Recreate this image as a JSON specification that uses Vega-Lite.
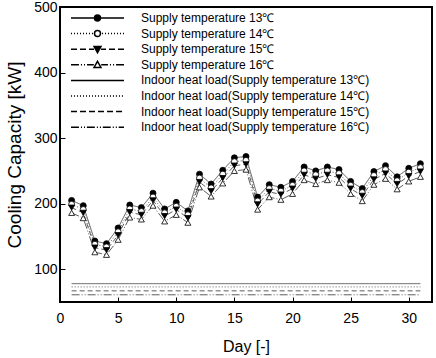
{
  "$schema": "https://vega.github.io/schema/vega-lite/v6.json",
  "width": 372,
  "height": 295,
  "autosize": "none",
  "padding": {"left": 60, "top": 7, "right": 4, "bottom": 56},
  "background": "white",
  "config": {
    "font": "Liberation Sans",
    "view": {"stroke": "black", "strokeWidth": 2},
    "axis": {"domain": false, "grid": false, "labelFont": "Liberation Sans", "titleFont": "Liberation Sans", "labelColor": "black", "titleColor": "black", "titleFontWeight": "normal", "tickColor": "black", "tickWidth": 1}
  },
  "data": {
    "values": [
      {"day": 1, "Supply temperature 13℃": 205, "Supply temperature 14℃": 199, "Supply temperature 15℃": 194, "Supply temperature 16℃": 186},
      {"day": 2, "Supply temperature 13℃": 197, "Supply temperature 14℃": 191, "Supply temperature 15℃": 186, "Supply temperature 16℃": 178},
      {"day": 3, "Supply temperature 13℃": 143, "Supply temperature 14℃": 138, "Supply temperature 15℃": 133, "Supply temperature 16℃": 126},
      {"day": 4, "Supply temperature 13℃": 139, "Supply temperature 14℃": 134, "Supply temperature 15℃": 129, "Supply temperature 16℃": 122},
      {"day": 5, "Supply temperature 13℃": 163, "Supply temperature 14℃": 157, "Supply temperature 15℃": 152, "Supply temperature 16℃": 145},
      {"day": 6, "Supply temperature 13℃": 198, "Supply temperature 14℃": 192, "Supply temperature 15℃": 187, "Supply temperature 16℃": 179},
      {"day": 7, "Supply temperature 13℃": 194, "Supply temperature 14℃": 188, "Supply temperature 15℃": 183, "Supply temperature 16℃": 176},
      {"day": 8, "Supply temperature 13℃": 216, "Supply temperature 14℃": 210, "Supply temperature 15℃": 205, "Supply temperature 16℃": 197},
      {"day": 9, "Supply temperature 13℃": 192, "Supply temperature 14℃": 186, "Supply temperature 15℃": 181, "Supply temperature 16℃": 173},
      {"day": 10, "Supply temperature 13℃": 202, "Supply temperature 14℃": 196, "Supply temperature 15℃": 191, "Supply temperature 16℃": 183},
      {"day": 11, "Supply temperature 13℃": 189, "Supply temperature 14℃": 183, "Supply temperature 15℃": 178, "Supply temperature 16℃": 171},
      {"day": 12, "Supply temperature 13℃": 245, "Supply temperature 14℃": 239, "Supply temperature 15℃": 233, "Supply temperature 16℃": 225},
      {"day": 13, "Supply temperature 13℃": 230, "Supply temperature 14℃": 224, "Supply temperature 15℃": 219, "Supply temperature 16℃": 211},
      {"day": 14, "Supply temperature 13℃": 251, "Supply temperature 14℃": 245, "Supply temperature 15℃": 239, "Supply temperature 16℃": 231},
      {"day": 15, "Supply temperature 13℃": 270, "Supply temperature 14℃": 264, "Supply temperature 15℃": 258, "Supply temperature 16℃": 250},
      {"day": 16, "Supply temperature 13℃": 272, "Supply temperature 14℃": 266, "Supply temperature 15℃": 260, "Supply temperature 16℃": 252},
      {"day": 17, "Supply temperature 13℃": 210, "Supply temperature 14℃": 204, "Supply temperature 15℃": 199, "Supply temperature 16℃": 191},
      {"day": 18, "Supply temperature 13℃": 229, "Supply temperature 14℃": 223, "Supply temperature 15℃": 218, "Supply temperature 16℃": 210},
      {"day": 19, "Supply temperature 13℃": 225, "Supply temperature 14℃": 219, "Supply temperature 15℃": 214, "Supply temperature 16℃": 206},
      {"day": 20, "Supply temperature 13℃": 234, "Supply temperature 14℃": 228, "Supply temperature 15℃": 223, "Supply temperature 16℃": 215},
      {"day": 21, "Supply temperature 13℃": 256, "Supply temperature 14℃": 250, "Supply temperature 15℃": 244, "Supply temperature 16℃": 236},
      {"day": 22, "Supply temperature 13℃": 250, "Supply temperature 14℃": 244, "Supply temperature 15℃": 238, "Supply temperature 16℃": 230},
      {"day": 23, "Supply temperature 13℃": 256, "Supply temperature 14℃": 250, "Supply temperature 15℃": 244, "Supply temperature 16℃": 236},
      {"day": 24, "Supply temperature 13℃": 252, "Supply temperature 14℃": 246, "Supply temperature 15℃": 240, "Supply temperature 16℃": 232},
      {"day": 25, "Supply temperature 13℃": 234, "Supply temperature 14℃": 228, "Supply temperature 15℃": 223, "Supply temperature 16℃": 215},
      {"day": 26, "Supply temperature 13℃": 223, "Supply temperature 14℃": 217, "Supply temperature 15℃": 212, "Supply temperature 16℃": 204},
      {"day": 27, "Supply temperature 13℃": 249, "Supply temperature 14℃": 243, "Supply temperature 15℃": 237, "Supply temperature 16℃": 229},
      {"day": 28, "Supply temperature 13℃": 258, "Supply temperature 14℃": 252, "Supply temperature 15℃": 246, "Supply temperature 16℃": 238},
      {"day": 29, "Supply temperature 13℃": 241, "Supply temperature 14℃": 235, "Supply temperature 15℃": 230, "Supply temperature 16℃": 222},
      {"day": 30, "Supply temperature 13℃": 254, "Supply temperature 14℃": 248, "Supply temperature 15℃": 242, "Supply temperature 16℃": 234},
      {"day": 31, "Supply temperature 13℃": 261, "Supply temperature 14℃": 255, "Supply temperature 15℃": 249, "Supply temperature 16℃": 241},
      {"day": 1, "Indoor heat load(Supply temperature 13℃)": 78, "Indoor heat load(Supply temperature 14℃)": 73, "Indoor heat load(Supply temperature 15℃)": 67, "Indoor heat load(Supply temperature 16℃)": 61},
      {"day": 31, "Indoor heat load(Supply temperature 13℃)": 78, "Indoor heat load(Supply temperature 14℃)": 73, "Indoor heat load(Supply temperature 15℃)": 67, "Indoor heat load(Supply temperature 16℃)": 61}
    ]
  },
  "transform": [
    {"fold": ["Supply temperature 13℃", "Supply temperature 14℃", "Supply temperature 15℃", "Supply temperature 16℃", "Indoor heat load(Supply temperature 13℃)", "Indoor heat load(Supply temperature 14℃)", "Indoor heat load(Supply temperature 15℃)", "Indoor heat load(Supply temperature 16℃)"], "as": ["series", "value"]},
    {"filter": "isValid(datum.value)"}
  ],
  "encoding": {
    "x": {"field": "day", "type": "quantitative", "scale": {"domain": [0, 32], "nice": false},
      "axis": {"title": "Day [-]", "values": [0, 5, 10, 15, 20, 25, 30], "tickSize": -5, "labelFontSize": 14, "labelPadding": 14, "titleFontSize": 16, "titlePadding": 13, "labelFlush": false}},
    "y": {"field": "value", "type": "quantitative", "scale": {"domain": [50, 500], "nice": false, "zero": false},
      "axis": {"title": "Cooling Capacity [kW]", "values": [100, 200, 300, 400, 500], "tickSize": -5, "labelFontSize": 14, "labelPadding": 8, "titleFontSize": 19, "titlePadding": 9, "labelFlush": false}}
  },
  "layer": [
    {
      "mark": {"type": "line", "strokeWidth": 0.8, "stroke": "#333"},
      "encoding": {
        "detail": {"field": "series"},
        "strokeDash": {"field": "series", "type": "nominal", "legend": null,
          "scale": {"domain": ["Supply temperature 13℃", "Supply temperature 14℃", "Supply temperature 15℃", "Supply temperature 16℃", "Indoor heat load(Supply temperature 13℃)", "Indoor heat load(Supply temperature 14℃)", "Indoor heat load(Supply temperature 15℃)", "Indoor heat load(Supply temperature 16℃)"],
            "range": [[1, 0], [1, 2], [5, 3], [8, 2, 1, 2, 1, 2], [1, 0], [1, 2], [5, 3], [8, 2, 1, 2, 1, 2]]}}
      }
    },
    {
      "transform": [{"filter": "indexof(datum.series, 'Indoor') < 0"}],
      "mark": {"type": "point", "size": 36, "strokeWidth": 0.8, "stroke": "black", "opacity": 1},
      "encoding": {
        "shape": {"field": "series", "type": "nominal", "legend": null,
          "scale": {"domain": ["Supply temperature 13℃", "Supply temperature 14℃", "Supply temperature 15℃", "Supply temperature 16℃"], "range": ["circle", "circle", "triangle-down", "triangle-up"]}},
        "fill": {"field": "series", "type": "nominal", "legend": null,
          "scale": {"domain": ["Supply temperature 13℃", "Supply temperature 14℃", "Supply temperature 15℃", "Supply temperature 16℃"], "range": ["black", "white", "black", "white"]}}
      }
    },
    {
      "transform": [{"filter": "datum.day > 1000"}],
      "mark": {"type": "point", "stroke": "black", "opacity": 1, "strokeWidth": 1},
      "encoding": {
        "shape": {"field": "series", "type": "nominal",
          "scale": {"domain": ["Supply temperature 13℃", "Supply temperature 14℃", "Supply temperature 15℃", "Supply temperature 16℃", "Indoor heat load(Supply temperature 13℃)", "Indoor heat load(Supply temperature 14℃)", "Indoor heat load(Supply temperature 15℃)", "Indoor heat load(Supply temperature 16℃)"],
            "range": [
              "M-1,0H1M-0.113,0A0.113,0.113,0,1,1,0.113,0A0.113,0.113,0,1,1,-0.113,0Z",
              "M-1,0h0.04M-0.887,0h0.04M-0.774,0h0.04M-0.661,0h0.04M-0.548,0h0.04M-0.435,0h0.04M-0.322,0h0.04M-0.209,0h0.04M0.17,0h0.04M0.283,0h0.04M0.396,0h0.04M0.509,0h0.04M0.622,0h0.04M0.735,0h0.04M0.848,0h0.04M0.961,0h0.039M-0.113,0A0.113,0.113,0,1,1,0.113,0A0.113,0.113,0,1,1,-0.113,0Z",
              "M-1,0H-0.774M-0.661,0H-0.435M-0.322,0H-0.13M0.13,0H0.322M0.435,0H0.661M0.774,0H1M-0.13,-0.1L0.13,-0.1L0,0.13Z",
              "M-1,0H-0.7M-0.625,0h0.04M-0.51,0h0.04M-0.395,0H-0.14M0.14,0H0.395M0.47,0h0.04M0.585,0h0.04M0.7,0H1M0,-0.13L0.13,0.1L-0.13,0.1Z",
              "M-1,0H1",
              "M-1,0h0.04M-0.887,0h0.04M-0.774,0h0.04M-0.661,0h0.04M-0.548,0h0.04M-0.435,0h0.04M-0.322,0h0.04M-0.209,0h0.04M-0.096,0h0.04M0.017,0h0.04M0.13,0h0.04M0.243,0h0.04M0.356,0h0.04M0.469,0h0.04M0.582,0h0.04M0.695,0h0.04M0.808,0h0.04M0.921,0h0.04",
              "M-1,0H-0.774M-0.66,0H-0.434M-0.32,0H-0.094M0.02,0H0.246M0.36,0H0.586M0.7,0H0.926",
              "M-1,0H-0.7M-0.625,0h0.04M-0.51,0h0.04M-0.4,0H-0.1M-0.025,0h0.04M0.09,0h0.04M0.2,0H0.5M0.575,0h0.04M0.69,0h0.04M0.8,0H1"
            ]},
          "legend": {"title": null, "orient": "none", "legendX": 10, "legendY": 4, "padding": 0, "symbolSize": 2809, "clipHeight": 14, "rowPadding": 1.6, "labelOffset": 16, "labelFontSize": 12, "labelFont": "Liberation Sans", "labelColor": "black", "labelLimit": 400,
            "encode": {"symbols": {"update": {"stroke": {"value": "#333"}, "strokeWidth": {"value": 0.9}, "opacity": {"value": 1}}}}}},
        "fill": {"field": "series", "type": "nominal",
          "scale": {"domain": ["Supply temperature 13℃", "Supply temperature 14℃", "Supply temperature 15℃", "Supply temperature 16℃", "Indoor heat load(Supply temperature 13℃)", "Indoor heat load(Supply temperature 14℃)", "Indoor heat load(Supply temperature 15℃)", "Indoor heat load(Supply temperature 16℃)"],
            "range": ["black", "white", "black", "white", "white", "white", "white", "white"]},
          "legend": {"title": null, "orient": "none", "legendX": 10, "legendY": 4, "padding": 0, "symbolSize": 2809, "clipHeight": 14, "rowPadding": 1.6, "labelOffset": 16, "labelFontSize": 12, "labelFont": "Liberation Sans", "labelColor": "black", "labelLimit": 400,
            "encode": {"symbols": {"update": {"stroke": {"value": "#333"}, "strokeWidth": {"value": 0.9}, "opacity": {"value": 1}}}}}}
      }
    }
  ],
  "resolve": {"scale": {"shape": "independent", "fill": "independent", "strokeDash": "independent"}}
}
